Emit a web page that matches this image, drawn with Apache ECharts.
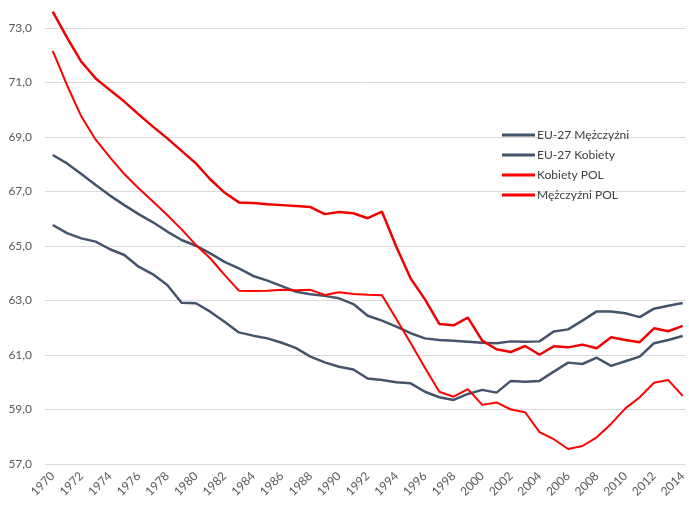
<!DOCTYPE html>
<html>
<head>
<meta charset="utf-8">
<script src="https://cdn.jsdelivr.net/npm/echarts@6/dist/echarts.min.js"></script>
<style>
html,body{margin:0;padding:0;background:#fff;}
#chart{width:689px;height:507px;}
</style>
</head>
<body>
<div id="chart"></div>
<script>
var years = [];
for (var y = 1970; y <= 2014; y++) years.push(y);
var tickYears = [1970,1972,1974,1976,1978,1980,1982,1984,1986,1988,1990,1992,1994,1996,1998,2000,2002,2004,2006,2008,2010,2012,2014];

var euMen = [68.34,68.03,67.64,67.24,66.85,66.5,66.17,65.87,65.53,65.22,65.01,
  64.73,64.42,64.18,63.9,63.73,63.53,63.32,63.23,63.17,
  63.08,62.87,62.44,62.26,62.04,61.8,61.61,61.55,61.52,61.49,
  61.45,61.43,61.5,61.49,61.5,61.86,61.94,62.26,62.6,62.6,62.53,62.39,62.7,62.81,62.91];
var euWomen = [65.77,65.47,65.28,65.16,64.88,64.67,64.24,63.96,63.57,62.92,62.9,
  62.59,62.22,61.83,61.71,61.61,61.45,61.25,60.94,60.73,
  60.57,60.47,60.14,60.08,60.0,59.96,59.65,59.45,59.35,59.57,
  59.72,59.62,60.05,60.02,60.05,60.39,60.72,60.67,60.9,60.6,60.77,60.94,61.43,61.55,61.7];
var polWomen = [72.16,70.9,69.75,68.9,68.25,67.64,67.12,66.63,66.14,65.61,65.04,
  64.55,63.94,63.36,63.35,63.36,63.39,63.38,63.39,63.2,
  63.3,63.24,63.21,63.19,62.32,61.44,60.53,59.65,59.47,59.75,
  59.17,59.26,59.0,58.9,58.17,57.91,57.55,57.66,57.98,58.47,59.04,59.45,59.98,60.08,59.5];
var polMen = [73.6,72.65,71.76,71.15,70.72,70.3,69.83,69.38,68.95,68.49,68.03,
  67.45,66.96,66.6,66.58,66.53,66.5,66.47,66.43,66.17,
  66.25,66.2,66.02,66.26,64.97,63.81,63.04,62.14,62.09,62.37,
  61.53,61.21,61.11,61.33,61.01,61.32,61.28,61.38,61.25,61.65,61.55,61.47,61.98,61.87,62.07];

var seriesNames = ['EU-27 Mężczyźni','EU-27 Kobiety','Kobiety POL','Mężczyźni POL'];

function pairs(vals){ return vals.map(function(v,i){ return [years[i], v]; }); }

var chart = echarts.init(document.getElementById('chart'), null, {renderer:'canvas'});
var font = 'Lato, "Open Sans", sans-serif';
function mk(name, vals, color, width){
  return {name:name, type:'line', data:pairs(vals), symbol:'none', clip:false,
    lineStyle:{color:color, width:width}, itemStyle:{color:color}, animation:false};
}
chart.setOption({
  animation:false,
  textStyle:{fontFamily:font},
  grid:{left:45, right:0, top:28, bottom:43},
  legend:{
    orient:'vertical', left:497, top:124, icon:'rect', itemWidth:33, itemHeight:3, itemGap:8,
    textStyle:{fontSize:12, color:'#404040', fontFamily:font, padding:[0,0,0,-3]},
    data:seriesNames
  },
  xAxis:{
    type:'value', min:1969.46, max:2014.22,
    splitLine:{show:false}, axisLine:{show:false}, axisTick:{show:false},
    axisLabel:{customValues:tickYears, rotate:45, margin:10, fontSize:12, color:'#595959', fontFamily:font,
      formatter:function(v){return String(Math.round(v));}}
  },
  yAxis:{
    type:'value', min:57, max:73, interval:2,
    axisLine:{show:false}, axisTick:{show:false},
    splitLine:{lineStyle:{color:'#D9D9D9', width:1}},
    axisLabel:{margin:13, fontSize:12, color:'#595959', fontFamily:font,
      formatter:function(v){return v.toFixed(1).replace('.', ',');}}
  },
  series:[
    mk(seriesNames[0], euMen, '#44546A', 2.5),
    mk(seriesNames[1], euWomen, '#44546A', 2.5),
    mk(seriesNames[2], polWomen, '#FF0000', 2),
    mk(seriesNames[3], polMen, '#F00000', 2.5)
  ]
});
</script>
</body>
</html>
